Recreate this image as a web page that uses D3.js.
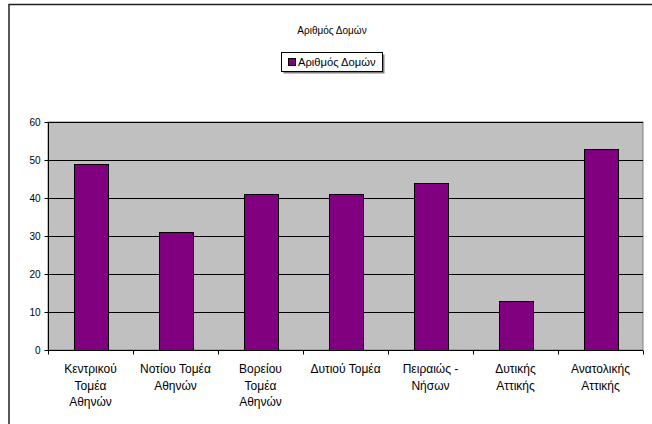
<!DOCTYPE html>
<html><head><meta charset="utf-8">
<script src="https://cdn.jsdelivr.net/npm/d3@7"></script>
<style>body{margin:0;background:#fff}svg{display:block;font-family:Arial,"Liberation Sans",sans-serif}</style>
</head><body>
<script>
const categories = [["Κεντρικού","Τομέα","Αθηνών"],["Νοτίου Τομέα","Αθηνών"],["Βορείου","Τομέα","Αθηνών"],["Δυτιού Τομέα"],["Πειραιώς -","Νήσων"],["Δυτικής","Αττικής"],["Ανατολικής","Αττικής"]];
const values = [49,31,41,41,44,13,53];
const yTicks = [0,10,20,30,40,50,60];
const title = "Αριθμός Δομών";
const seriesName = "Αριθμός Δομών";

const W=652,H=424;
const svg=d3.select("body").append("svg").attr("width",W).attr("height",H);
// chart border
svg.append("rect").attr("x",9).attr("y",4.5).attr("width",660).attr("height",440).attr("fill","#fff").attr("stroke","#222").attr("stroke-width",1.5);

const L=48,R=643,T=122,B=350;
const x=d3.scaleBand().domain(d3.range(categories.length)).range([L,R]).paddingInner(0).paddingOuter(0);
const y=d3.scaleLinear().domain([0,60]).range([B,T]);

svg.append("rect").attr("x",L).attr("y",T).attr("width",R-L).attr("height",B-T).attr("fill","#c0c0c0").attr("stroke","#808080");
// gridlines
svg.append("g").selectAll("line").data(yTicks.filter(d=>d>0)).join("line")
  .attr("x1",L).attr("x2",R).attr("y1",d=>Math.round(y(d))+0.5).attr("y2",d=>Math.round(y(d))+0.5)
  .attr("stroke","#000").attr("stroke-width",1);

// bars
const bw=x.bandwidth()*0.4;
svg.append("g").selectAll("rect").data(values).join("rect")
  .attr("x",(d,i)=>Math.round(x(i)+x.bandwidth()/2-bw/2)+0.5)
  .attr("y",d=>Math.round(y(d))+0.5)
  .attr("width",Math.round(bw))
  .attr("height",d=>Math.round(B-y(d)))
  .attr("fill","#800080").attr("stroke","#000").attr("stroke-width",1);

// y axis
const ya=svg.append("g").attr("transform",`translate(${L+0.5},0)`)
  .call(d3.axisLeft(y).tickValues(yTicks).tickSize(4).tickPadding(4).tickFormat(d3.format("d")));
ya.select(".domain").attr("stroke","#000").attr("d",`M0,${T}V${B}`);
ya.selectAll(".tick line").attr("stroke","#000");
ya.selectAll("text").attr("font-size",10).attr("font-family","Arial,'Liberation Sans',sans-serif").attr("fill","#000");

// x axis
const xa=svg.append("g").attr("transform",`translate(0,${B+0.5})`);
xa.append("line").attr("x1",L).attr("x2",R).attr("stroke","#000");
xa.selectAll(".tk").data(d3.range(categories.length+1)).join("line")
  .attr("x1",i=>Math.round(L+i*x.bandwidth())+0.5).attr("x2",i=>Math.round(L+i*x.bandwidth())+0.5)
  .attr("y1",0).attr("y2",4).attr("stroke","#000");
categories.forEach((lines,i)=>{
  const t=svg.append("text").attr("text-anchor","middle").attr("font-size",12).attr("fill","#000");
  lines.forEach((s,j)=>t.append("tspan").attr("x",x(i)+x.bandwidth()/2).attr("y",373+j*16.5).text(s));
});

// title
svg.append("text").attr("x",332).attr("y",34).attr("text-anchor","middle").attr("font-size",10).text(title);

// legend
svg.append("rect").attr("x",283.5).attr("y",54.5).attr("width",101).attr("height",19).attr("fill","#808080");
svg.append("rect").attr("x",281.5).attr("y",52.5).attr("width",101).attr("height",19).attr("fill","#fff").attr("stroke","#000");
svg.append("rect").attr("x",288.5).attr("y",58.5).attr("width",7).attr("height",7).attr("fill","#800080").attr("stroke","#000");
svg.append("text").attr("x",298).attr("y",66).attr("font-size",11.2).text(seriesName);
</script>
</body></html>
